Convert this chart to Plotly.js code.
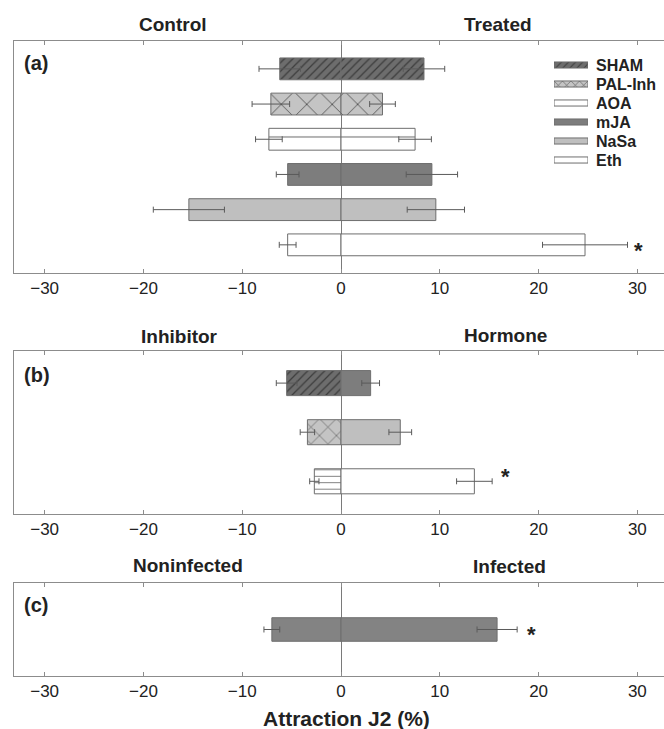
<!DOCTYPE html>
<html>
<head>
<meta charset="utf-8">
<script src="https://cdn.plot.ly/plotly-3.0.1.min.js"></script>
<style>
html,body{margin:0;padding:0;overflow:hidden;background:#fff;}
#chart{width:668px;height:729px;}
</style>
</head>
<body>
<div id="chart"></div>
<script>
// ---------------- DATA ----------------
const seriesNames = ['SHAM', 'PAL-Inh', 'AOA', 'mJA', 'NaSa', 'Eth'];

// Panel (a): Control (left, negative) vs Treated (right, positive)
const controlA    = [-6.2, -7.1, -7.3, -5.4, -15.4, -5.4];
const controlErrA = [2.1, 1.9, 1.35, 1.15, 3.6, 0.85];
const treatedA    = [8.4, 4.2, 7.5, 9.2, 9.6, 24.7];
const treatedErrA = [2.1, 1.3, 1.65, 2.6, 2.9, 4.3];

// Panel (b): Inhibitor (left) vs Hormone (right)
const rowsB          = ['SHAM / mJA', 'PAL-Inh / NaSa', 'AOA / Eth'];
const inhibitorNames = ['SHAM', 'PAL-Inh', 'AOA'];
const hormoneNames   = ['mJA', 'NaSa', 'Eth'];
const inhibitorB     = [-5.5, -3.4, -2.7];
const inhibitorErrB  = [1.05, 0.73, 0.47];
const hormoneB       = [3.0, 6.0, 13.5];
const hormoneErrB    = [0.9, 1.15, 1.8];

// Panel (c): Noninfected (left) vs Infected (right)
const rowsC      = ['J2'];
const nonInfC    = [-7.0];
const nonInfErrC = [0.8];
const infC       = [15.8];
const infErrC    = [2.03];

// Axis ticks
const tickVals = [-30, -20, -10, 0, 10, 20, 30];
const tickText = ['\u221230', '\u221220', '\u221210', '0', '10', '20', '30'];

// Side titles
const sideTitles = [
  ['Control', 'Treated'],
  ['Inhibitor', 'Hormone'],
  ['Noninfected', 'Infected']
];
const panelLabels = ['(a)', '(b)', '(c)'];
const xTitle = 'Attraction J2 (%)';

// ---------------- STYLE ----------------
const FONT = '"Liberation Sans", Arial, Helvetica, sans-serif';
const W = 668, H = 729, plotL = 14, plotW = W - plotL;
const px2x = p => (p - plotL) / plotW;
const px2y = p => (H - p) / H;
const EDGE = '#6e6e6e';

function styleFor(name, pat) {
  pat = pat || {};
  switch (name) {
    case 'SHAM':
      return {color: '#6d6d6d', pattern: {shape: '/', bgcolor: '#6d6d6d', fgcolor: '#3c3c3c', size: pat.size || 6, solidity: pat.solidity || 0.2}};
    case 'PAL-Inh':
      return {color: '#c4c4c4', pattern: {shape: 'x', bgcolor: '#c4c4c4', fgcolor: '#555555', size: pat.size || 18, solidity: pat.solidity || 0.1}};
    case 'AOA':
      return {color: '#ffffff', pattern: {shape: '-', bgcolor: '#ffffff', fgcolor: '#777777', size: pat.size || 27.5, solidity: pat.solidity || 0.04}};
    case 'mJA':
      return {color: '#7d7d7d'};
    case 'NaSa':
      return {color: '#bfbfbf'};
    default:
      return {color: '#ffffff'};
  }
}

function barTrace(y, x, err, name, xa, ya, width, pat, noPattern) {
  const st = styleFor(name, pat);
  const marker = {color: st.color, line: {color: EDGE, width: 1}};
  if (st.pattern && !noPattern) marker.pattern = st.pattern;
  const t = {
    type: 'bar', orientation: 'h', y: y, x: x, name: name,
    xaxis: xa, yaxis: ya, width: width, marker: marker,
    showlegend: false, hoverinfo: 'skip'
  };
  if (err) t.error_x = {type: 'data', array: err, color: '#5a5a5a', thickness: 1, width: 3};
  return t;
}

const traces = [];
// Panel (a)
seriesNames.forEach((n, i) => {
  traces.push(barTrace([n, n], [controlA[i], treatedA[i]], [controlErrA[i], treatedErrA[i]], n, 'x', 'y', 0.62));
});
// Panel (b)
const patB = {'SHAM': {size: 6}, 'PAL-Inh': {size: 12}, 'AOA': {size: 6.44, solidity: 0.15}};
rowsB.forEach((r, i) => {
  traces.push(barTrace([r], [inhibitorB[i]], [inhibitorErrB[i]], inhibitorNames[i], 'x2', 'y2', 0.51, patB[inhibitorNames[i]]));
  traces.push(barTrace([r], [hormoneB[i]], [hormoneErrB[i]], hormoneNames[i], 'x2', 'y2', 0.51));
});
// Panel (c)
(function () {
  const t = barTrace([rowsC[0], rowsC[0]], [nonInfC[0], infC[0]], [nonInfErrC[0], infErrC[0]], 'mJA', 'x3', 'y3', 0.51);
  t.marker.color = '#838383';
  traces.push(t);
})();
// Legend swatches on a hidden auxiliary axis
const patL = {'SHAM': {size: 5}, 'PAL-Inh': {size: 6, solidity: 0.2}};
seriesNames.forEach((n) => {
  traces.push(barTrace([n], [1], null, n, 'x4', 'y4', 0.32, patL[n], n === 'AOA'));
});

// ---------------- LAYOUT ----------------
const xCommon = {
  type: 'linear', autorange: false,
  range: [-33.1, 33.1], tickmode: 'array', tickvals: tickVals, ticktext: tickText,
  ticks: 'inside', ticklen: 4, tickcolor: '#8c8c8c', tickwidth: 1,
  showline: true, linecolor: '#8c8c8c', linewidth: 1, mirror: 'ticks',
  showgrid: false, zeroline: true, zerolinecolor: '#7a7a7a', zerolinewidth: 1,
  tickfont: {family: FONT, size: 17, color: '#222'}, fixedrange: true, automargin: false,
  domain: [0, 1]
};
const yCommon = {
  type: 'category', autorange: false, showline: true, linecolor: '#8c8c8c', linewidth: 1, mirror: true,
  ticks: '', showticklabels: false, showgrid: false, zeroline: false, fixedrange: true, automargin: false
};

const layout = {
  width: W, height: H,
  margin: {l: plotL, r: 0, t: 0, b: 0, pad: 0},
  paper_bgcolor: '#ffffff', plot_bgcolor: 'rgba(0,0,0,0)',
  barmode: 'overlay', hovermode: false, showlegend: false,
  font: {family: FONT, color: '#222'},
  xaxis:  Object.assign({}, xCommon, {anchor: 'y'}),
  yaxis:  Object.assign({}, yCommon, {anchor: 'x', domain: [px2y(273), px2y(40.7)], categoryarray: seriesNames, categoryorder: 'array', range: [5.8, -0.8]}),
  xaxis2: Object.assign({}, xCommon, {anchor: 'y2'}),
  yaxis2: Object.assign({}, yCommon, {anchor: 'x2', domain: [px2y(513.7), px2y(350.7)], categoryarray: rowsB, categoryorder: 'array', range: [2.66, -0.66]}),
  xaxis3: Object.assign({}, xCommon, {anchor: 'y3'}),
  yaxis3: Object.assign({}, yCommon, {anchor: 'x3', domain: [px2y(675.7), px2y(583.3)], categoryarray: rowsC, categoryorder: 'array', range: [1, -1]}),
  xaxis4: {type: 'linear', autorange: false, anchor: 'y4', domain: [px2x(554), px2x(588)], range: [0, 1], visible: false, fixedrange: true, automargin: false},
  yaxis4: {anchor: 'x4', type: 'category', autorange: false, domain: [px2y(169.5), px2y(55.5)], categoryarray: seriesNames, categoryorder: 'array', range: [5.5, -0.5], visible: false, fixedrange: true, automargin: false},
  annotations: []
};

const ann = layout.annotations;
const titleFont = {family: FONT, size: 19, color: '#222'};
const titlePos = [
  [[-17.0, 24.5], [15.9, 24.5]],
  [[-16.3, 336], [16.7, 335]],
  [[-15.5, 565.5], [17.1, 566]]
];
sideTitles.forEach((pair, p) => {
  pair.forEach((txt, s) => {
    ann.push({text: '<b>' + txt + '</b>', xref: p === 0 ? 'x' : 'x' + (p + 1), x: titlePos[p][s][0],
      yref: 'paper', y: px2y(titlePos[p][s][1]), xanchor: 'center', yanchor: 'middle', showarrow: false, font: titleFont});
  });
});
const labelY = [63, 375, 605];
panelLabels.forEach((lab, p) => {
  ann.push({text: '<b>' + lab + '</b>', xref: 'paper', x: px2x(21.5), xanchor: 'left', yref: 'paper', y: px2y(labelY[p]),
    yanchor: 'middle', showarrow: false, font: {family: FONT, size: 20, color: '#222'}});
});
// Significance asterisks
const starFont = {family: FONT, size: 22, color: '#222'};
ann.push({text: '<b>*</b>', xref: 'x', x: 30.1, yref: 'y', y: 'Eth', yshift: -6, showarrow: false, font: starFont});
ann.push({text: '<b>*</b>', xref: 'x2', x: 16.7, yref: 'y2', y: rowsB[2], yshift: 5, showarrow: false, font: starFont});
ann.push({text: '<b>*</b>', xref: 'x3', x: 19.3, yref: 'y3', y: rowsC[0], yshift: -5, showarrow: false, font: starFont});
// Legend text
seriesNames.forEach((n) => {
  ann.push({text: '<b>' + n + '</b>', xref: 'x4', x: 1, xshift: 6, xanchor: 'left', yref: 'y4', y: n, yanchor: 'middle',
    showarrow: false, font: {family: FONT, size: 16, color: '#222'}});
});
// X-axis title
ann.push({text: '<b>' + xTitle + '</b>', xref: 'paper', x: px2x(346), xanchor: 'center', yref: 'paper', y: px2y(718),
  yanchor: 'middle', showarrow: false, font: {family: FONT, size: 21, color: '#222'}});

Plotly.newPlot('chart', traces, layout, {displayModeBar: false, staticPlot: true});
</script>
</body>
</html>
